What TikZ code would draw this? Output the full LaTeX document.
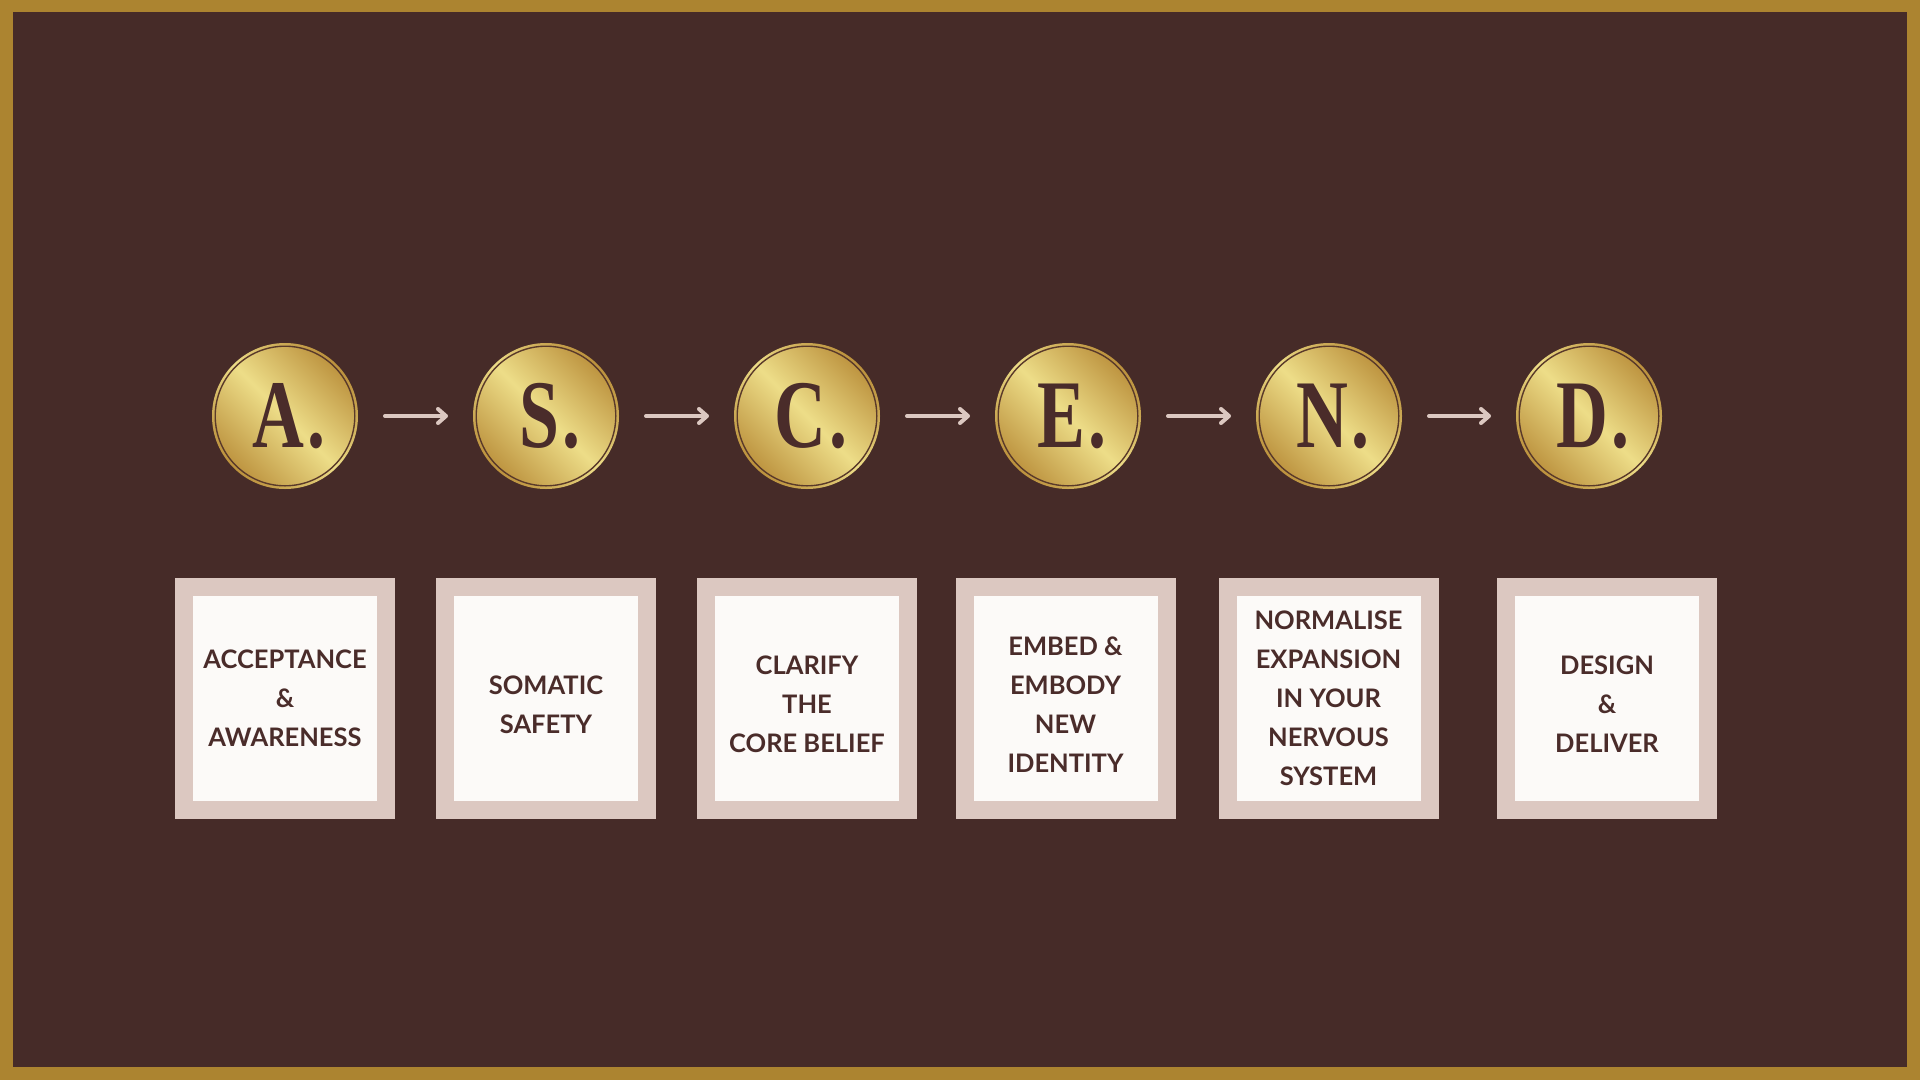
\documentclass[tikz,border=0pt]{standalone}
\usepackage{fontspec}
\usetikzlibrary{arrows.meta}
\setmainfont{Lato}
\newfontfamily\labelfont{Lato Bold}
\newfontfamily\coinfont[FakeStretch=0.74]{Liberation Serif Bold}
\definecolor{bgbrown}{HTML}{462B28}
\definecolor{framegold}{HTML}{AC8430}
\definecolor{boxpink}{HTML}{DCC8C1}
\definecolor{boxwhite}{HTML}{FCFAF8}
\definecolor{inkbrown}{HTML}{4A2C2A}
\definecolor{golddark}{HTML}{BC923E}
\definecolor{goldlight}{HTML}{EDDD88}
\definecolor{ringdark}{HTML}{5A3A2A}
\newcommand{\coindot}{\kern4pt.}
\tikzset{
  coin/.style={circle, minimum size=146pt, inner sep=0pt, outer sep=0pt,
    top color=golddark, bottom color=golddark, middle color=goldlight, shading angle=-45,
    text=inkbrown, font=\coinfont\fontsize{97}{97}\selectfont,
    execute at begin node={\hspace*{8pt}},
    path picture={\draw[ringdark, line width=1.4pt] (path picture bounding box.center) circle (69.8pt);}},
  stepbox/.style={rectangle, minimum width=202pt, minimum height=223pt, inner sep=0pt, outer sep=0pt,
    fill=boxwhite, draw=boxpink, line width=18pt},
  steptext/.style={inner sep=0pt, text=inkbrown, align=center,
    font=\labelfont\fontsize{25.5}{38.9}\selectfont},
  flowarrow/.style={draw=boxpink, line width=4pt, line cap=round,
    -{Straight Barb[length=8pt,width=14pt,line cap=round,line join=round]},
    shorten <=27pt, shorten >=25pt}
}
\begin{document}
\begin{tikzpicture}[x=1pt,y=-1pt]
\useasboundingbox (0,0) rectangle (1920,1080);
\fill[framegold] (0,0) rectangle (1920,1080);
\fill[bgbrown] (13,12) rectangle (1907,1067);
% coins
\node[coin] (c1) at (285,416) {A\coindot};
\node[coin] (c2) at (546,416) {S\coindot};
\node[coin] (c3) at (807,416) {C\coindot};
\node[coin] (c4) at (1068,416) {E\coindot};
\node[coin] (c5) at (1329,416) {N\coindot};
\node[coin] (c6) at (1589,416) {D\coindot};
% arrows
\draw[flowarrow] (c1) -- (c2);
\draw[flowarrow] (c2) -- (c3);
\draw[flowarrow] (c3) -- (c4);
\draw[flowarrow] (c4) -- (c5);
\draw[flowarrow] (c5) -- (c6);
% boxes
\node[stepbox] (b1) at (285,698.5) {};
\node[stepbox] (b2) at (546,698.5) {};
\node[stepbox] (b3) at (807,698.5) {};
\node[stepbox] (b4) at (1065.5,698.5) {};
\node[stepbox] (b5) at (1328.5,698.5) {};
\node[stepbox] (b6) at (1607,698.5) {};
% box texts
\node[steptext] (t1) at (b1.center) {ACCEPTANCE\\\&\\AWARENESS};
\node[steptext] (t2) at ([yshift=-6pt]b2.center) {SOMATIC\\SAFETY};
\node[steptext] (t3) at ([yshift=-6pt]b3.center) {CLARIFY\\THE\\CORE BELIEF};
\node[steptext] (t4) at ([yshift=-6pt]b4.center) {EMBED \&\\EMBODY\\NEW\\IDENTITY};
\node[steptext] (t5) at (b5.center) {NORMALISE\\EXPANSION\\IN YOUR\\NERVOUS\\SYSTEM};
\node[steptext] (t6) at ([yshift=-6pt]b6.center) {DESIGN\\\&\\DELIVER};
\end{tikzpicture}
\end{document}
